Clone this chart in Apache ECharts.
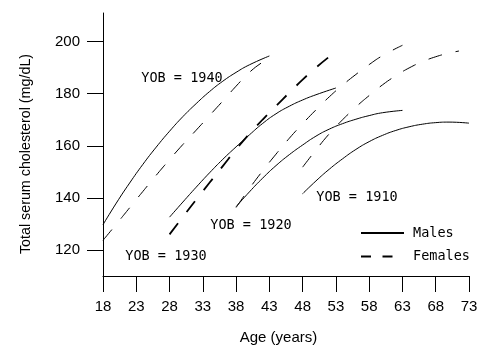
<!DOCTYPE html>
<html><head><meta charset="utf-8">
<script src="https://cdn.jsdelivr.net/npm/echarts@6/dist/echarts.min.js"></script>
<style>html,body{margin:0;padding:0;background:#fff}#c{width:496px;height:360px}</style>
</head><body><div id="c"></div>
<script>
// Tick values
const xTicks = [18, 23, 28, 33, 38, 43, 48, 53, 58, 63, 68, 73];
const yTicks = [120, 140, 160, 180, 200];

// Year of birth 1940
const agesM1940 = [18, 20, 22, 24, 26, 28, 30, 32, 34, 36, 38, 40, 43];
const cholM1940 = [129.7, 138.0, 145.7, 152.9, 159.5, 165.6, 171.2, 176.2, 180.8, 184.8, 188.2, 191.1, 194.5];
const agesF1940 = [18, 20, 22, 24, 26, 28, 30, 32, 34, 36, 38, 40, 42, 43];
const cholF1940 = [123.7, 129.9, 136.2, 142.5, 148.7, 154.7, 160.5, 166.0, 171.6, 177.2, 182.9, 188.2, 192.2, 193.8];

// Year of birth 1930
const agesM1930 = [28, 30, 32, 34, 36, 38, 40, 42, 44, 46, 48, 50, 53];
const cholM1930 = [132.6, 138.4, 144.1, 149.6, 154.8, 159.6, 164.2, 168.6, 172.3, 175.2, 177.6, 179.6, 182.2];
const agesF1930 = [28, 30, 32, 34, 36, 38, 40, 42, 44, 46, 48, 50, 52];
const cholF1930 = [126.0, 132.7, 139.3, 145.8, 152.2, 158.6, 164.6, 170.1, 175.3, 180.4, 185.4, 190.0, 194.2];

// Year of birth 1920
const agesM1920 = [38, 40, 42, 44, 46, 48, 50, 52, 54, 56, 58, 60, 63];
const cholM1920 = [136.6, 142.3, 147.6, 152.4, 156.6, 160.3, 163.7, 166.4, 168.5, 170.2, 171.6, 172.7, 173.6];
const agesF1920 = [38, 40, 42, 44, 46, 48, 50, 52, 54, 56, 58, 60, 63];
const cholF1920 = [136.3, 143.6, 150.4, 156.8, 162.9, 168.5, 173.8, 178.8, 183.3, 187.4, 191.2, 194.6, 198.6];

// Year of birth 1910
const agesM1910 = [48, 50, 52, 54, 56, 58, 60, 62, 64, 66, 68, 70, 73];
const cholM1910 = [141.6, 146.5, 151.0, 155.0, 158.6, 161.6, 164.0, 165.9, 167.3, 168.3, 168.9, 169.1, 168.7];
const agesF1910 = [48, 50, 52, 54, 56, 58, 60, 62, 64, 66, 68, 70, 71.5];
const cholF1910 = [151.8, 158.4, 164.6, 170.0, 174.9, 179.3, 183.4, 186.9, 189.9, 192.3, 194.2, 195.6, 196.4];

const cohortLabels = ['YOB = 1940', 'YOB = 1930', 'YOB = 1920', 'YOB = 1910'];
const legendNames = ['Males', 'Females'];

function pairs(a, v) { return a.map((x, i) => [x, v[i]]); }

const chart = echarts.init(document.getElementById('c'), null, {renderer: 'canvas'});
const monoFont = 'DejaVu Sans Mono';
const sansFont = 'Liberation Sans';

function mk(name, ages, chol, dashed, width) {
  return {
    name: name, type: 'line', data: pairs(ages, chol), smooth: true,
    symbol: 'none', showSymbol: false, silent: true,
    lineStyle: {color: '#000', width: width || 1, type: dashed ? [14, 14] : 'solid'},
    itemStyle: {color: '#000'}
  };
}

const labelPos = [[182, 78], [166, 256.5], [251, 225.5], [357, 197]];

chart.setOption({
  animation: false,
  backgroundColor: '#fff',
  grid: {left: 103, right: 27, top: 13, bottom: 84, containLabel: false},
  xAxis: {
    type: 'value', min: 18, max: 73,
    axisLine: {show: true, lineStyle: {color: '#000', width: 1}},
    axisTick: {show: true, customValues: xTicks, length: 16, lineStyle: {color: '#000', width: 1}},
    axisLabel: {customValues: xTicks, margin: 23, fontSize: 15, fontFamily: sansFont, color: '#000'},
    splitLine: {show: false}
  },
  yAxis: {
    type: 'value', min: 110, max: 211,
    axisLine: {show: true, lineStyle: {color: '#000', width: 1}},
    axisTick: {show: true, customValues: yTicks, length: 16, lineStyle: {color: '#000', width: 1}},
    axisLabel: {customValues: yTicks, margin: 23, fontSize: 15, fontFamily: sansFont, color: '#000'},
    splitLine: {show: false}
  },
  legend: {
    data: [
      {name: legendNames[0]},
      {name: legendNames[1], lineStyle: {type: [10, 11.5]}}
    ],
    orient: 'vertical', left: 355, top: 221, padding: 5,
    itemWidth: 43, itemHeight: 14, itemGap: 9.4, selectedMode: false,
    itemStyle: {opacity: 0, color: 'rgba(0,0,0,0)', borderWidth: 0},
    textStyle: {fontFamily: monoFont, fontSize: 13.5, color: '#000', padding: [0, 0, 0, 4]}
  },
  graphic: [
    {type: 'text', x: 26, y: 154, rotation: Math.PI / 2,
     style: {text: 'Total serum cholesterol (mg/dL)', font: '14.3px "Liberation Sans"', fill: '#000', align: 'center', verticalAlign: 'middle'}},
    {type: 'text', x: 278.5, y: 337.5,
     style: {text: 'Age (years)', font: '15px "Liberation Sans"', fill: '#000', align: 'center', verticalAlign: 'middle'}}
  ].concat(cohortLabels.map((t, i) => ({
    type: 'text', x: labelPos[i][0], y: labelPos[i][1],
    style: {text: t, font: '13.5px "DejaVu Sans Mono"', fill: '#000', align: 'center', verticalAlign: 'middle'}
  }))),
  series: [
    mk('Males', agesM1940, cholM1940, false),
    mk('Females', agesF1940, cholF1940, true),
    mk('Males', agesM1930, cholM1930, false),
    mk('Females', agesF1930, cholF1930, true, 1.8),
    mk('Males', agesM1920, cholM1920, false),
    mk('Females', agesF1920, cholF1920, true),
    mk('Males', agesM1910, cholM1910, false),
    mk('Females', agesF1910, cholF1910, true)
  ]
});
</script></body></html>
